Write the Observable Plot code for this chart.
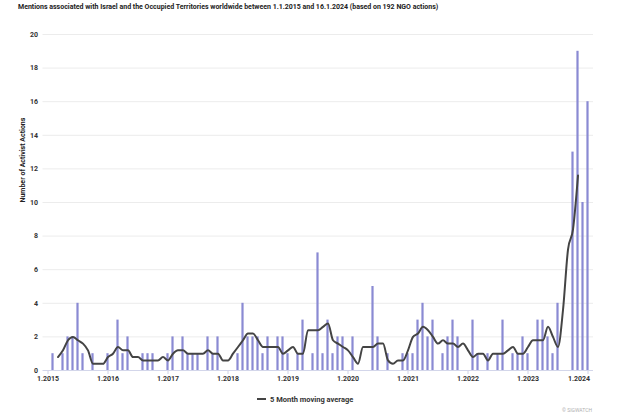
<!DOCTYPE html>
<html>
<head>
<meta charset="utf-8">
<script src="https://cdn.jsdelivr.net/npm/d3@7"></script>
<script src="https://cdn.jsdelivr.net/npm/@observablehq/plot@0.6"></script>
<style>
  html, body { margin: 0; padding: 0; background: #fff; overflow: hidden; }
  #wrap { position: relative; width: 636px; height: 419px; font-family: Roboto, "Noto Sans", sans-serif; }
  #title { position: absolute; left: 18px; top: 0; height: 15px; line-height: 15px; font-size: 7px; font-weight: bold; color: #222; white-space: nowrap; }
  #chart { position: absolute; left: 0; top: 16px; }
  #chart svg { font-family: Roboto, "Noto Sans", sans-serif; font-size: 7px; font-weight: bold; color: #333; background: transparent; }
  #chart svg [aria-label="x-axis tick"] { stroke: #cfd2e6; }
  #chart svg g[aria-label="x-axis"] line { stroke: #cfd2e6; }
  #legend { position: absolute; left: 257px; top: 391px; height: 16px; display: flex; align-items: center; font-size: 7.5px; font-weight: bold; color: #333; white-space: nowrap; }
  #legend .sw { display: inline-block; width: 9px; height: 2px; background: #444; margin-right: 4px; }
  #copy { position: absolute; right: 44px; top: 407px; font-size: 5px; line-height: 6px; color: #b0b0b0; }
</style>
</head>
<body>
<div id="wrap">
  <div id="title"></div>
  <div id="chart"></div>
  <div id="legend"><span class="sw"></span><span id="legendText"></span></div>
  <div id="copy">© SIGWATCH</div>
</div>
<script>
// ---- text ----
const titleText = "Mentions associated with Israel and the Occupied Territories worldwide between 1.1.2015 and 16.1.2024 (based on 192 NGO actions)";
const yAxisTitle = "Number of Activist Actions";
const seriesName = "5 Month moving average";

// ---- tick labels ----
const tickYears = [2015, 2016, 2017, 2018, 2019, 2020, 2021, 2022, 2023, 2024];
const tickLabels = ["1.2015", "1.2016", "1.2017", "1.2018", "1.2019", "1.2020", "1.2021", "1.2022", "1.2023", "1.2024"];
const yTicks = [0, 2, 4, 6, 8, 10, 12, 14, 16, 18, 20];

// ---- monthly counts (Jan..Dec) ----
const counts2015 = [0, 1, 0, 1, 2, 2, 4, 1, 0, 1, 0, 0];
const counts2016 = [1, 0, 3, 1, 2, 0, 0, 1, 1, 1, 0, 0];
const counts2017 = [1, 2, 0, 2, 1, 1, 1, 0, 2, 1, 2, 0];
const counts2018 = [0, 0, 1, 4, 2, 2, 2, 1, 2, 0, 2, 2];
const counts2019 = [1, 0, 1, 3, 0, 1, 7, 1, 3, 1, 2, 2];
const counts2020 = [0, 2, 0, 0, 0, 5, 2, 0, 1, 0, 0, 1];
const counts2021 = [1, 1, 3, 4, 2, 3, 0, 1, 2, 3, 2, 0];
const counts2022 = [0, 3, 1, 0, 1, 0, 1, 3, 0, 1, 1, 2];
const counts2023 = [1, 0, 3, 3, 2, 1, 4, 0, 0, 13, 19, 10];
const counts2024 = [16];

const counts = [].concat(counts2015, counts2016, counts2017, counts2018, counts2019,
                         counts2020, counts2021, counts2022, counts2023, counts2024);

// month categories (Jan 2015 .. Jan 2024)
const fmtKey = d3.utcFormat("%Y-%m");
const months = d3.utcMonth.range(new Date(Date.UTC(2015, 0, 1)), new Date(Date.UTC(2024, 1, 1))).map(fmtKey);
const data = months.map((m, i) => ({month: m, value: counts[i]}));
const tickKeys = tickYears.map(y => `${y}-01`);
const labelOf = new Map(tickKeys.map((k, i) => [k, tickLabels[i]]));

document.getElementById("title").textContent = titleText;
document.getElementById("legendText").textContent = seriesName;

const chart = Plot.plot({
  width: 636,
  height: 374,
  marginTop: 18,
  marginBottom: 20,
  marginLeft: 42.5,
  marginRight: 43,
  x: {type: "band", domain: months, padding: 0, ticks: tickKeys, tickFormat: k => labelOf.get(k), tickSize: 4, tickPadding: 2, label: null},
  y: {domain: [0, 20], ticks: yTicks, tickSize: 0, tickPadding: 5, label: null},
  marks: [
    Plot.ruleY(yTicks.filter(t => t > 0), {stroke: "#ececec"}),
    Plot.ruleY([0], {stroke: "#d3d6ea"}),
    Plot.barY(data, {x: "month", y: "value", fill: "#8a8ad3", insetLeft: 1.4, insetRight: 1.4}),
    Plot.lineY(data, Plot.windowY({k: 5, anchor: "middle", strict: true}, {x: "month", y: "value", stroke: "#444", strokeWidth: 2, curve: "monotone-x"})),
    Plot.text([yAxisTitle], {frameAnchor: "left", rotate: -90, dx: -20, fontWeight: "bold", fontSize: 7, fill: "#222"})
  ]
});
document.getElementById("chart").appendChild(chart);

// keep the last year label inside the plot, as in the original
chart.querySelectorAll("text").forEach(t => {
  if (t.textContent === tickLabels[tickLabels.length - 1]) {
    t.setAttribute("text-anchor", "end");
    t.setAttribute("dx", "2");
  }
});
</script>
</body>
</html>
